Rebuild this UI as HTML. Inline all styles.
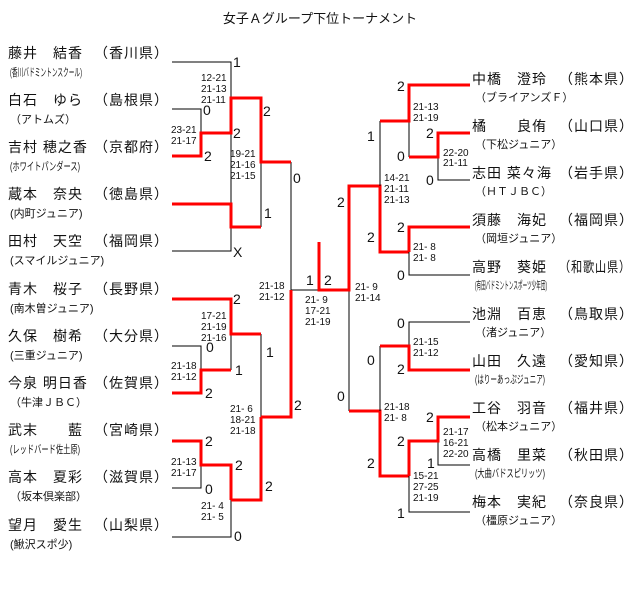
<!DOCTYPE html>
<html><head><meta charset="utf-8"><style>
html,body{margin:0;padding:0;background:#fff;}
svg{display:block;}
text{font-family:"Liberation Sans","Noto Sans CJK JP",sans-serif;fill:#111;}
.n{font-size:14px;letter-spacing:1px;}
.o{font-size:11px;fill:#333;}
.s{font-size:10px;white-space:pre;}
.d{font-size:14px;fill:#222;}
.k{stroke:#000;stroke-width:1;fill:none;}
.r{stroke:#f00;stroke-width:3;fill:none;}
</style></head><body>
<svg width="640" height="593" viewBox="0 0 640 593" xmlns="http://www.w3.org/2000/svg" xml:space="preserve">
<text x="320" y="23" text-anchor="middle" style="font-size:13px">女子Ａグループ下位トーナメント</text>

<!-- left names -->
<g class="n">
<text x="8" y="58">藤井　結香</text><text x="94" y="58">（香川県）</text>
<text x="8" y="105">白石　ゆら</text><text x="94" y="105">（島根県）</text>
<text x="8" y="152">吉村 穂之香</text><text x="94" y="152">（京都府）</text>
<text x="8" y="199">蔵本　奈央</text><text x="94" y="199">（徳島県）</text>
<text x="8" y="246">田村　天空</text><text x="94" y="246">（福岡県）</text>
<text x="8" y="294">青木　桜子</text><text x="94" y="294">（長野県）</text>
<text x="8" y="341">久保　樹希</text><text x="94" y="341">（大分県）</text>
<text x="8" y="388">今泉 明日香</text><text x="94" y="388">（佐賀県）</text>
<text x="8" y="435">武末　　藍</text><text x="94" y="435">（宮崎県）</text>
<text x="8" y="482">高本　夏彩</text><text x="94" y="482">（滋賀県）</text>
<text x="8" y="530">望月　愛生</text><text x="94" y="530">（山梨県）</text>
</g>
<g class="o">
<text x="10" y="76" textLength="72" lengthAdjust="spacingAndGlyphs">(香川バドミントンスクール)</text>
<text x="10" y="123">（アトムズ）</text>
<text x="10" y="170" textLength="70" lengthAdjust="spacingAndGlyphs">(ホワイトパンダース)</text>
<text x="10" y="217">(内町ジュニア)</text>
<text x="10" y="264">(スマイルジュニア)</text>
<text x="10" y="312">(南木曽ジュニア)</text>
<text x="10" y="359">(三重ジュニア)</text>
<text x="10" y="406">（牛津ＪＢＣ）</text>
<text x="10" y="453" textLength="70" lengthAdjust="spacingAndGlyphs">(レッドバード佐土原)</text>
<text x="10" y="500">（坂本倶楽部）</text>
<text x="10" y="548">(鰍沢スポ少)</text>
</g>

<!-- right names -->
<g class="n">
<text x="472" y="84">中橋　澄玲</text><text x="559" y="84">（熊本県）</text>
<text x="472" y="131">橘　　良侑</text><text x="559" y="131">（山口県）</text>
<text x="472" y="178">志田 菜々海</text><text x="559" y="178">（岩手県）</text>
<text x="472" y="225">須藤　海妃</text><text x="559" y="225">（福岡県）</text>
<text x="472" y="272">高野　葵姫</text><text x="559" y="272" textLength="72" lengthAdjust="spacingAndGlyphs">（和歌山県）</text>
<text x="472" y="319">池淵　百恵</text><text x="559" y="319">（鳥取県）</text>
<text x="472" y="366">山田　久遠</text><text x="559" y="366">（愛知県）</text>
<text x="472" y="413">工谷　羽音</text><text x="559" y="413">（福井県）</text>
<text x="472" y="460">高橋　里菜</text><text x="559" y="460">（秋田県）</text>
<text x="472" y="507">梅本　実紀</text><text x="559" y="507">（奈良県）</text>
</g>
<g class="o">
<text x="475" y="101">（ブライアンズＦ）</text>
<text x="475" y="148">（下松ジュニア）</text>
<text x="475" y="195">（ＨＴＪＢＣ）</text>
<text x="475" y="242">（岡垣ジュニア）</text>
<text x="475" y="289" textLength="72" lengthAdjust="spacingAndGlyphs">(有田バドミントンスポーツ少年団)</text>
<text x="475" y="336">（渚ジュニア）</text>
<text x="475" y="383" textLength="70" lengthAdjust="spacingAndGlyphs">(はりーあっぷジュニア)</text>
<text x="475" y="430">（松本ジュニア）</text>
<text x="475" y="477" textLength="70" lengthAdjust="spacingAndGlyphs">(大曲バドスピリッツ)</text>
<text x="475" y="524">（橿原ジュニア）</text>
</g>

<path class="k" d="M172 62H231V133 M172 109H201V133 M231 133V227 M231 227V251H172 M261 162V227 M291 162V290H349V411 M231 334V370 M172 346H201V370 M261 334V417 M201 465V488H172 M231 500V537H172"/>
<path class="r" d="M172 156H201V133H231V98H261V162H291 M172 204H231V227H261 M172 299H231V334H261 M172 393H201V370H231 M261 417V500H231 M291 290V417H261 M172 441H201V465H231V500"/>
<path class="r" d="M319 242V290H349V186H380V252H409 M349 411H380V476H409"/>
<path class="k" d="M380 121V186 M409 121V157 M438 156V180H470 M409 252V275H470 M380 346V411 M409 346V322H470 M438 441V465H470 M409 476V512H470"/>
<path class="r" d="M380 121H409V85H470 M409 157H438V133H470 M409 252V227H470 M380 346H409V370H470 M409 476V441H438V417H470"/>

<g class="d">
<text x="233" y="67">1</text><text x="203" y="115">0</text><text x="233" y="138">2</text><text x="204" y="161">2</text>
<text x="263" y="116">2</text><text x="293" y="183">0</text><text x="264" y="218">1</text><text x="233" y="257">X</text>
<text x="233" y="304">2</text><text x="206" y="352">0</text><text x="235" y="375">1</text><text x="205" y="398">2</text>
<text x="266" y="357">1</text><text x="294" y="410">2</text><text x="205" y="446">2</text><text x="235" y="470">2</text>
<text x="205" y="494">0</text><text x="265" y="491">2</text><text x="234" y="541">0</text>
<text x="306" y="285">1</text><text x="324" y="285">2</text>
<text x="337" y="207">2</text><text x="367" y="242">2</text><text x="367" y="141">1</text>
<text x="397" y="91">2</text><text x="426" y="138">2</text><text x="397" y="161">0</text><text x="426" y="185">0</text>
<text x="397" y="232">2</text><text x="397" y="280">0</text>
<text x="397" y="328">0</text><text x="367" y="365">0</text><text x="397" y="374">2</text><text x="337" y="401">0</text>
<text x="426" y="422">2</text><text x="397" y="446">2</text><text x="427" y="468">1</text><text x="367" y="468">2</text><text x="397" y="518">1</text>
</g>
<g class="s">
<text x="201" y="81">12-21</text><text x="201" y="92">21-13</text><text x="201" y="103">21-11</text>
<text x="171" y="133">23-21</text><text x="171" y="144">21-17</text>
<text x="230" y="157">19-21</text><text x="230" y="168">21-16</text><text x="230" y="179">21-15</text>
<text x="259" y="289">21-18</text><text x="259" y="300">21-12</text>
<text x="305" y="303">21- 9</text><text x="305" y="314">17-21</text><text x="305" y="325">21-19</text>
<text x="355" y="290">21- 9</text><text x="355" y="301">21-14</text>
<text x="384" y="181">14-21</text><text x="384" y="192">21-11</text><text x="384" y="203">21-13</text>
<text x="413" y="110">21-13</text><text x="413" y="121">21-19</text>
<text x="443" y="156">22-20</text><text x="443" y="166">21-11</text>
<text x="413" y="250">21- 8</text><text x="413" y="261">21- 8</text>
<text x="413" y="345">21-15</text><text x="413" y="356">21-12</text>
<text x="384" y="410">21-18</text><text x="384" y="421">21- 8</text>
<text x="443" y="435">21-17</text><text x="443" y="446">16-21</text><text x="443" y="457">22-20</text>
<text x="413" y="479">15-21</text><text x="413" y="490">27-25</text><text x="413" y="501">21-19</text>
<text x="201" y="319">17-21</text><text x="201" y="330">21-19</text><text x="201" y="341">21-16</text>
<text x="171" y="369">21-18</text><text x="171" y="380">21-12</text>
<text x="230" y="412">21- 6</text><text x="230" y="423">18-21</text><text x="230" y="434">21-18</text>
<text x="171" y="465">21-13</text><text x="171" y="476">21-17</text>
<text x="201" y="509">21- 4</text><text x="201" y="520">21- 5</text>
</g>
</svg>
</body></html>
